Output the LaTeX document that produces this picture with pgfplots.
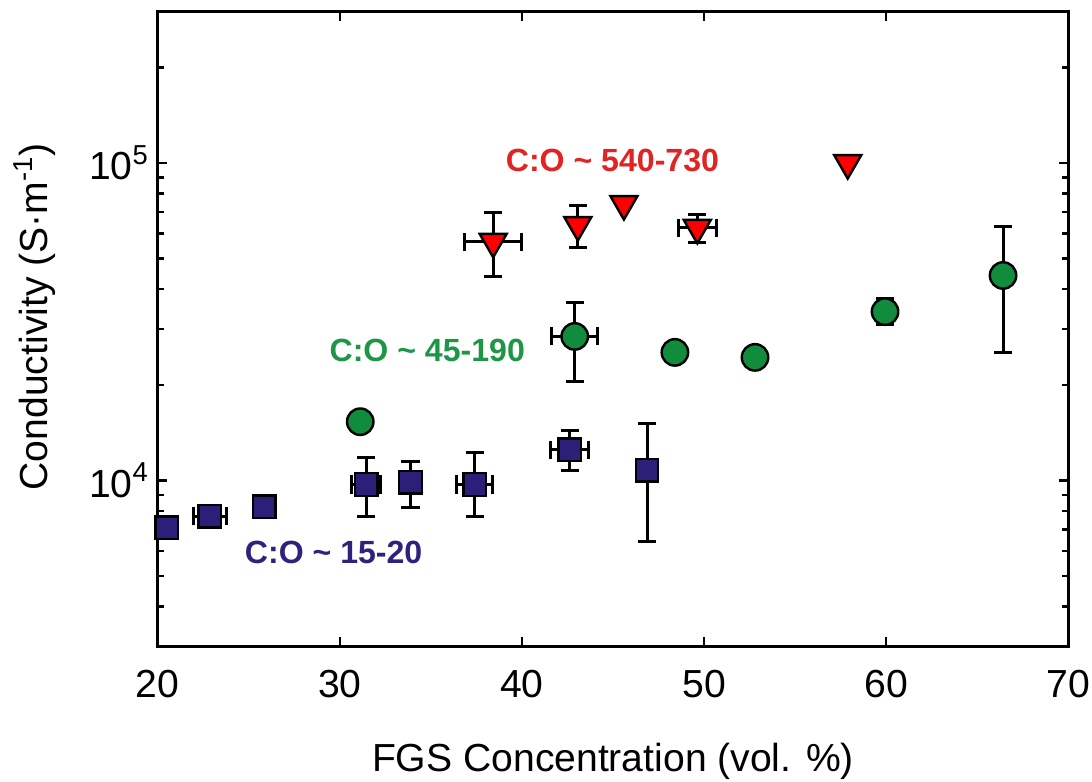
\documentclass[border=0pt]{standalone}
\usepackage{fontspec}
\setmainfont{Liberation Sans}
\usepackage{pgfplots}
\usepackage{pgfplotstable}
\pgfplotsset{compat=1.18}
\definecolor{sqblue}{RGB}{43,31,121}
\definecolor{cgreen}{RGB}{16,140,60}
\definecolor{tred}{RGB}{225,35,35}
\definecolor{tgreen}{RGB}{30,150,70}
\definecolor{tblue}{RGB}{45,35,125}

\pgfplotstableread{
x y xe yp ym
20.5 7100 0 0 0
22.86 7700 0.9 0 0
25.84 8250 0 0 0
31.45 9700 0.8 2100 2000
33.88 9850 0 1600 1650
37.4 9700 1.0 2550 2000
42.63 12500 1.05 1850 1750
46.87 10750 0 4350 4320
}\squares

\pgfplotstableread{
x y xe yp ym
31.12 15300 0 0 0
42.9 28400 1.25 7900 7930
48.4 25300 0 0 0
52.8 24400 0 0 0
59.94 34000 0 3300 3050
66.42 44200 0 18700 18930
}\circles

\pgfplotstableread{
x y xe yp ym
38.42 56500 1.55 13100 12700
43.07 63800 0 9400 9700
45.6 74300 0 0 0
49.63 62500 1.05 6100 6500
57.89 100000 0 0 0
}\triangles

\begin{document}
\begin{tikzpicture}
\begin{axis}[
  scale only axis, width=454pt, height=316.5pt,
  xmin=20, xmax=70, ymode=log, ymin=3000, ymax=300000,
  clip=false,
  /pgf/number format/assume math mode=true,
  xtick={20,30,40,50,60,70},
  xticklabels={20,30,40,50,60,70},
  ytick={10000,100000},
  yticklabels={10\textsuperscript{4},10\textsuperscript{5}},
  minor ytick={4000,5000,6000,7000,8000,9000,20000,30000,40000,50000,60000,70000,80000,90000,200000},
  axis line style={line width=1.5pt},
  major tick length=4.5pt, minor tick length=3pt,
  every tick/.style={black, line width=1.2pt},
  tick label style={font=\fontsize{19.5}{23}\selectfont, inner sep=0pt},
  xticklabel style={yshift=-11.5pt},
  yticklabel style={xshift=-4.25pt},
  xlabel={FGS Concentration (vol. \%)},
  ylabel={Conductivity (S·m\textsuperscript{-1})},
  label style={font=\fontsize{19.5}{23}\selectfont, inner sep=0pt},
  xlabel style={at={(axis description cs:0.5,0)}, anchor=north, yshift=-48pt},
  ylabel style={at={(axis description cs:-0.1112,0.519)}, anchor=south},
  error bars/x dir=both, error bars/x explicit,
  error bars/y dir=both, error bars/y explicit,
  error bars/error bar style={line width=1.5pt, black},
  error bars/error mark options={rotate=90, line width=1.5pt, black, mark size=4.5pt},
]
\addplot[only marks, mark=square*, mark size=5.6pt,
  mark options={fill=sqblue, draw=black, line width=1.2pt}]
  table[x=x, y=y, x error=xe, y error plus=yp, y error minus=ym] {\squares};
\addplot[only marks, mark=*, mark size=6.6pt,
  mark options={fill=cgreen, draw=black, line width=1.2pt}]
  table[x=x, y=y, x error=xe, y error plus=yp, y error minus=ym] {\circles};
\addplot[only marks, mark=triangle*, mark size=7.8pt,
  mark options={rotate=180, fill=red, draw=black, line width=1.2pt}]
  table[x=x, y=y, x error=xe, y error plus=yp, y error minus=ym] {\triangles};
\node[font=\bfseries\fontsize{16}{19}\selectfont, text=tred] at (axis cs:44.97,102000) {C:O \textasciitilde{} 540-730};
\node[font=\bfseries\fontsize{16}{19}\selectfont, text=tgreen] at (axis cs:34.8,25600) {C:O \textasciitilde{} 45-190};
\node[font=\bfseries\fontsize{16}{19}\selectfont, text=tblue] at (axis cs:29.66,5940) {C:O \textasciitilde{} 15-20};
\end{axis}
\path (current bounding box.north west) ++(-7pt,5pt);
\path (current bounding box.south east) ++(1pt,-1pt);
\end{tikzpicture}
\end{document}
